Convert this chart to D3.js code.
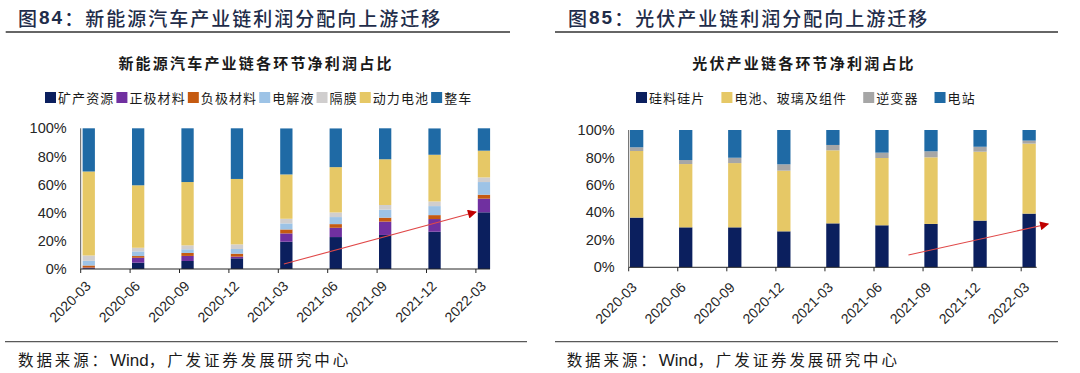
<!DOCTYPE html>
<html>
<head>
<meta charset="utf-8">
<script src="https://cdn.jsdelivr.net/npm/d3@7"></script>
<style>
  body { margin: 0; background: #fff; }
  text { font-family: "Liberation Sans", "Noto Sans CJK SC", sans-serif; }
</style>
</head>
<body>
<div id="chart"></div>
<script>
// quarters on both charts
const quarters = ["2020-03", "2020-06", "2020-09", "2020-12", "2021-03", "2021-06", "2021-09", "2021-12", "2022-03"];
const pctTicks = [0, 20, 40, 60, 80, 100];

// 新能源汽车 (%)
const evStages = ["矿产资源", "正极材料", "负极材料", "电解液", "隔膜", "动力电池", "整车"];
const evMining    = [0.5, 4.5, 5.7, 7.6, 19.4, 22.7, 24.2, 26.5, 40.3];
const evCathode   = [0.5, 3.5, 3.6, 1.2, 5.9, 6.6, 9.5, 9.0, 9.7];
const evAnode     = [1.5, 1.2, 2.1, 2.1, 2.8, 2.6, 2.8, 2.8, 2.8];
const evElectro   = [3.3, 3.3, 2.6, 3.3, 4.3, 5.0, 5.7, 6.4, 9.0];
const evSeparator = [3.8, 2.6, 2.8, 3.3, 3.3, 3.3, 3.3, 3.3, 3.3];
const evBattery   = [59.7, 44.4, 45.0, 46.5, 31.5, 32.2, 32.5, 33.2, 19.0];
const evVehicle   = [30.7, 40.5, 38.2, 36.0, 32.7, 27.5, 22.0, 18.7, 15.9];

// 光伏 (%)
const pvStages = ["硅料硅片", "电池、玻璃及组件", "逆变器", "电站"];
const pvSilicon  = [36.2, 29.1, 29.1, 26.2, 32.0, 30.6, 31.6, 34.0, 39.1];
const pvModule   = [48.5, 46.1, 46.8, 44.2, 53.2, 49.0, 48.5, 50.2, 51.0];
const pvInverter = [2.7, 2.9, 3.9, 4.6, 3.9, 3.9, 4.4, 3.6, 2.2];
const pvPlant    = [12.6, 21.9, 20.2, 25.0, 10.9, 16.5, 15.5, 12.2, 7.7];

// trend arrows: [category index, %]
const evArrow = [[3.95, 3.5], [7.84, 40.5]];
const pvArrow = [[5.54, 9], [8.39, 31.5]];

const evColors = ["#0b1f5e", "#7030a0", "#c55a11", "#9dc3e6", "#d0cece", "#e6c866", "#1f6aa5"];
const pvColors = ["#0b1f5e", "#e6c866", "#a6a6a6", "#1f6aa5"];

const svg = d3.select("#chart").append("svg")
  .attr("width", 1080)
  .attr("height", 373);

const defs = svg.append("defs");
defs.append("marker")
  .attr("id", "head")
  .attr("viewBox", "0 0 10 10")
  .attr("refX", 9).attr("refY", 5)
  .attr("markerWidth", 12).attr("markerHeight", 9)
  .attr("markerUnits", "userSpaceOnUse")
  .attr("orient", "auto")
  .append("path")
  .attr("d", "M0,0L10,5L0,10Z")
  .attr("fill", "#c00000");

function toRows(series) {
  return quarters.map((q, i) => {
    const row = {q};
    series.forEach(s => row[s.key] = s.values[i]);
    return row;
  });
}

function panel(cfg) {
  const g = svg.append("g");

  // header
  const head = g.append("text")
    .attr("x", cfg.headX).attr("y", 17)
    .attr("dominant-baseline", "central")
    .attr("fill", "#1f2d4a")
    .style("font-size", "19px")
    .style("letter-spacing", "2px");
  head.append("tspan").text("图").style("font-family", "Noto Sans CJK SC").style("font-weight", 500);
  head.append("tspan").text(cfg.num).style("font-weight", 700).style("font-family", "Liberation Sans");
  head.append("tspan").text("：" + cfg.heading).style("font-family", "Noto Sans CJK SC").style("font-weight", 500);

  g.append("line")
    .attr("x1", cfg.lineX[0]).attr("x2", cfg.lineX[1])
    .attr("y1", 32).attr("y2", 32)
    .attr("stroke", "#333").attr("stroke-width", 1.3);

  // chart title
  g.append("text")
    .attr("x", cfg.titleX).attr("y", 62)
    .attr("text-anchor", "middle")
    .attr("dominant-baseline", "central")
    .attr("fill", "#1a1a1a")
    .style("font-family", "Noto Sans CJK SC")
    .style("font-size", "15px")
    .style("font-weight", 700)
    .style("letter-spacing", "2.2px")
    .text(cfg.title);

  // legend
  let lx = cfg.legendX;
  cfg.keys.forEach((k, i) => {
    g.append("rect")
      .attr("x", lx).attr("y", 92)
      .attr("width", 11).attr("height", 11)
      .attr("fill", cfg.colors[i]);
    const t = g.append("text")
      .attr("x", lx + 13).attr("y", 97.5)
      .attr("dominant-baseline", "central")
      .attr("fill", "#1a1a1a")
      .style("font-family", "Noto Sans CJK SC")
      .style("font-size", "13px")
      .style("letter-spacing", "1.1px")
      .text(k);
    lx += 13 + t.node().getComputedTextLength() + cfg.legendGap;
  });

  // scales
  const x = d3.scaleBand()
    .domain(quarters)
    .range([cfg.axisX, cfg.axisX + quarters.length * cfg.step]);
  const y = d3.scaleLinear().domain([0, 100]).range([cfg.y0, cfg.y100]);
  const xi = d3.scaleLinear()
    .domain([0, 1])
    .range([cfg.axisX + cfg.barOff + cfg.barW / 2, cfg.axisX + cfg.step + cfg.barOff + cfg.barW / 2]);

  const stacked = d3.stack().keys(cfg.keys)(toRows(cfg.series));

  g.selectAll("g.layer")
    .data(stacked)
    .join("g")
    .attr("class", "layer")
    .attr("fill", (d, i) => cfg.colors[i])
    .selectAll("rect")
    .data(d => d)
    .join("rect")
    .attr("x", d => x(d.data.q) + cfg.barOff)
    .attr("width", cfg.barW)
    .attr("y", d => y(d[1]))
    .attr("height", d => y(d[0]) - y(d[1]));

  // y axis
  g.append("line")
    .attr("x1", cfg.axisX).attr("x2", cfg.axisX)
    .attr("y1", y(0)).attr("y2", y(100))
    .attr("stroke", "#595959");
  g.selectAll("text.ylab")
    .data(pctTicks)
    .join("text")
    .attr("class", "ylab")
    .attr("x", cfg.axisX - 14)
    .attr("y", d => y(d))
    .attr("dy", "0.35em")
    .attr("text-anchor", "end")
    .attr("fill", "#262626")
    .style("font-size", "14.5px")
    .text(d => d + "%");

  // x axis
  g.append("line")
    .attr("x1", cfg.axisX).attr("x2", cfg.axisEnd)
    .attr("y1", y(0)).attr("y2", y(0))
    .attr("stroke", "#262626");
  g.selectAll("line.xtick")
    .data(quarters)
    .join("line")
    .attr("class", "xtick")
    .attr("x1", d => x(d)).attr("x2", d => x(d))
    .attr("y1", y(0)).attr("y2", y(0) + 4)
    .attr("stroke", "#262626");
  g.selectAll("text.xlab")
    .data(quarters)
    .join("text")
    .attr("class", "xlab")
    .attr("transform", d => `translate(${x(d) + cfg.labDx},${y(0) + cfg.labDy}) rotate(-45)`)
    .attr("text-anchor", "end")
    .attr("fill", "#262626")
    .style("font-size", "14px")
    .text(d => d);

  // arrow
  g.append("line")
    .attr("x1", xi(cfg.arrow[0][0])).attr("y1", y(cfg.arrow[0][1]))
    .attr("x2", xi(cfg.arrow[1][0])).attr("y2", y(cfg.arrow[1][1]))
    .attr("stroke", "#e04848")
    .attr("stroke-width", 1.1)
    .attr("marker-end", "url(#head)");

  // source
  g.append("line")
    .attr("x1", cfg.srcLine[0]).attr("x2", cfg.srcLine[1])
    .attr("y1", 341.7).attr("y2", 341.7)
    .attr("stroke", "#595959").attr("stroke-width", 1.2);
  const src = g.append("text")
    .attr("x", cfg.srcX).attr("y", 360)
    .attr("dominant-baseline", "central")
    .attr("fill", "#1a1a1a")
    .style("font-size", "15.5px");
  src.append("tspan").text("数据来源：").style("letter-spacing", "2.9px");
  src.append("tspan").text("Wind").style("font-size", "17px");
  src.append("tspan").text("，广发证券发展研究中心").style("letter-spacing", "2.9px");
}

panel({
  num: "84", heading: "新能源汽车产业链利润分配向上游迁移", headX: 18, lineX: [5.7, 510],
  title: "新能源汽车产业链各环节净利润占比", titleX: 256,
  keys: evStages, colors: evColors, legendX: 45, legendGap: 2,
  series: [evMining, evCathode, evAnode, evElectro, evSeparator, evBattery, evVehicle]
    .map((v, i) => ({key: evStages[i], values: v})),
  axisX: 80.7, axisEnd: 490, step: 49.4, barOff: 1.9, barW: 12.3,
  y0: 269, y100: 128.3, labDx: 11, labDy: 18,
  arrow: evArrow, srcLine: [5, 527], srcX: 18
});

panel({
  num: "85", heading: "光伏产业链利润分配向上游迁移", headX: 568, lineX: [555, 1058],
  title: "光伏产业链各环节净利润占比", titleX: 804,
  keys: pvStages, colors: pvColors, legendX: 636, legendGap: 16,
  series: [pvSilicon, pvModule, pvInverter, pvPlant]
    .map((v, i) => ({key: pvStages[i], values: v})),
  axisX: 628.7, axisEnd: 1036.7, step: 49.06, barOff: 1.3, barW: 13.3,
  y0: 267.3, y100: 130, labDx: 9, labDy: 21,
  arrow: pvArrow, srcLine: [555, 1058], srcX: 566.7
});
</script>
</body>
</html>
